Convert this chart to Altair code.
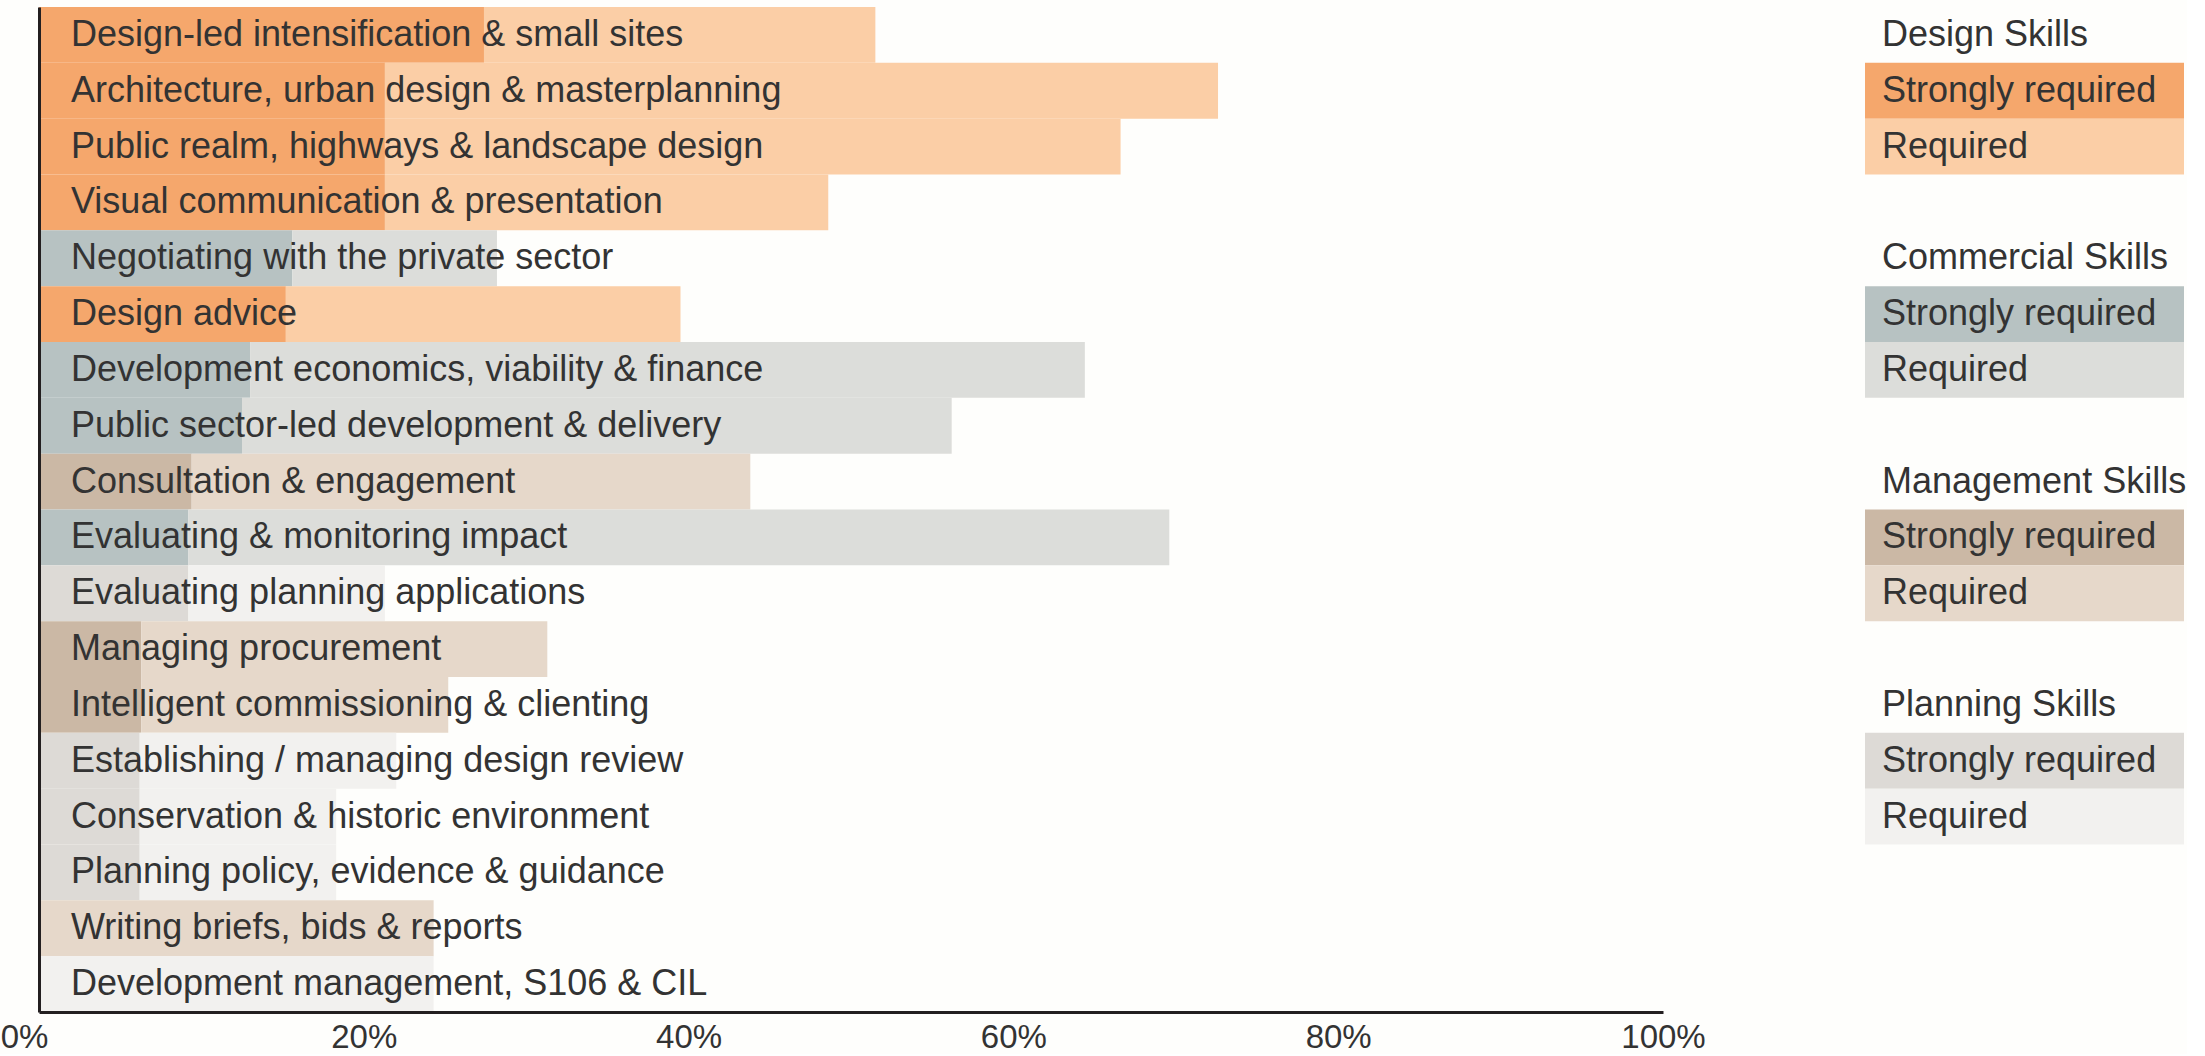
import altair as alt
import pandas as pd

categories = [
    "Design-led intensification & small sites",
    "Architecture, urban design & masterplanning",
    "Public realm, highways & landscape design",
    "Visual communication & presentation",
    "Negotiating with the private sector",
    "Design advice",
    "Development economics, viability & finance",
    "Public sector-led development & delivery",
    "Consultation & engagement",
    "Evaluating & monitoring impact",
    "Evaluating planning applications",
    "Managing procurement",
    "Intelligent commissioning & clienting",
    "Establishing / managing design review",
    "Conservation & historic environment",
    "Planning policy, evidence & guidance",
    "Writing briefs, bids & reports",
    "Development management, S106 & CIL",
]
skill_group = [
    "Design", "Design", "Design", "Design", "Commercial", "Design",
    "Commercial", "Commercial", "Management", "Commercial", "Planning",
    "Management", "Management", "Planning", "Planning", "Planning",
    "Management", "Planning",
]
strongly_required = [27.4, 21.3, 21.3, 21.3, 15.6, 15.2, 13.0, 12.5, 9.4, 9.2,
                     9.2, 6.3, 6.3, 6.2, 6.2, 6.2, 0.0, 0.0]
required = [24.1, 51.3, 45.3, 27.3, 12.6, 24.3, 51.4, 43.7, 34.4, 60.4,
            12.1, 25.0, 18.9, 15.8, 12.1, 12.1, 24.3, 24.3]

groups = ["Design", "Commercial", "Management", "Planning"]
legend_titles = ["Design Skills", "Commercial Skills", "Management Skills", "Planning Skills"]
levels = ["Strongly required", "Required"]
tick_values = [0, 20, 40, 60, 80, 100]

palette = {
    "Design": ["#F5A76C", "#FBCEA6"],
    "Commercial": ["#B7C2C2", "#DCDDDA"],
    "Management": ["#CBB8A5", "#E6D8CA"],
    "Planning": ["#DDDAD6", "#F2F1EF"],
}

FONT = "Liberation Sans"
TEXT = "#333333"
AXIS = "#231F20"

color_domain = [f"{g}|{lv}" for g in groups for lv in levels]
color_range = [palette[g][k] for g in groups for k in range(2)]
color_scale = alt.Scale(domain=color_domain, range=color_range)

# ---- main bars ----
rows = []
for cat, g, s, r in zip(categories, skill_group, strongly_required, required):
    rows.append(dict(category=cat, key=f"{g}|Strongly required", start=0.0, end=s))
    rows.append(dict(category=cat, key=f"{g}|Required", start=s, end=s + r))
bars_df = pd.DataFrame(rows)
labels_df = pd.DataFrame({"category": categories})

y_enc = alt.Y(
    "category:N",
    sort=categories,
    scale=alt.Scale(paddingInner=0, paddingOuter=0),
    axis=alt.Axis(labels=False, ticks=False, title=None, grid=False,
                  domainColor=AXIS, domainWidth=3, minExtent=0, zindex=1),
)

bars = alt.Chart(bars_df).mark_bar(opacity=1).encode(
    y=y_enc,
    x=alt.X(
        "start:Q",
        scale=alt.Scale(domain=[0, 100], nice=False),
        axis=alt.Axis(values=tick_values, labelExpr="datum.value + '%'",
                      ticks=False, grid=False, title=None, domainColor=AXIS,
                      domainWidth=3, labelFontSize=33, labelColor=TEXT,
                      labelFont=FONT, labelPadding=9, labelFlush=False, zindex=1,
                      labelOffset={"condition": {"test": "datum.value == 0", "value": -15},
                                   "value": 0}),
    ),
    x2="end:Q",
    color=alt.Color("key:N", scale=color_scale, legend=None),
)

texts = alt.Chart(labels_df).mark_text(
    align="left", baseline="middle", dx=32, fontSize=36, font=FONT, color=TEXT
).encode(
    y=alt.Y("category:N", sort=categories),
    x=alt.XDatum(0),
    text="category:N",
)

main = alt.layer(bars, texts).properties(width=1624, height=1005)

# ---- legend panel ----
leg_rows = []
for gi, g in enumerate(groups):
    leg_rows.append(dict(row=4 * gi, label=legend_titles[gi], key="", kind="title"))
    for k, lv in enumerate(levels):
        leg_rows.append(dict(row=4 * gi + 1 + k, label=lv, key=f"{g}|{lv}", kind="box"))
leg_df = pd.DataFrame(leg_rows)

leg_y = alt.Y("row:O", scale=alt.Scale(domain=list(range(18)), paddingInner=0, paddingOuter=0), axis=None)
leg_x = alt.XDatum(0, scale=alt.Scale(domain=[0, 1]), axis=None)

leg_boxes = alt.Chart(leg_df).transform_filter(alt.datum.kind == "box").mark_rect().encode(
    y=leg_y,
    x=leg_x,
    x2=alt.X2Datum(1),
    color=alt.Color("key:N", scale=color_scale, legend=None),
)
leg_text = alt.Chart(leg_df).mark_text(
    align="left", baseline="middle", dx=17, fontSize=36, font=FONT, color=TEXT
).encode(
    y=leg_y,
    x=leg_x,
    text="label:N",
)
legend_panel = alt.layer(leg_boxes, leg_text).properties(width=319, height=1005)

chart = alt.hconcat(main, legend_panel, spacing=159).properties(
    padding={"left": 0, "top": 7, "right": 0, "bottom": 0},
    background="#FEFEFC",
).configure_view(stroke=None)

chart.save("out.html", embed_options={"renderer": "svg", "actions": False})
